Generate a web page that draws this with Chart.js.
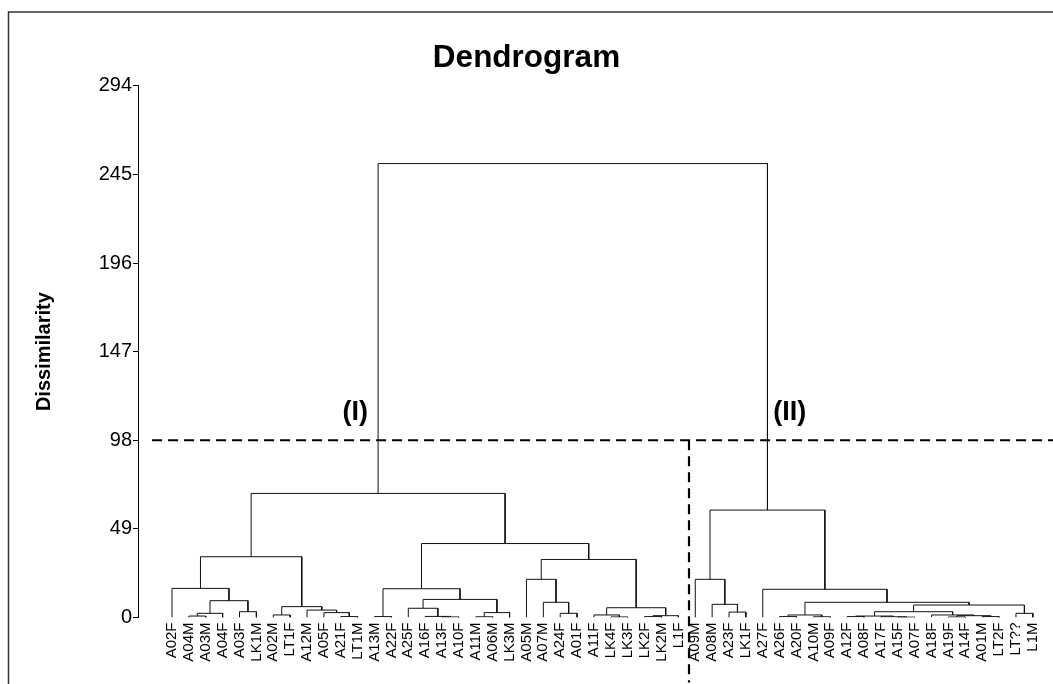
<!DOCTYPE html>
<html><head><meta charset="utf-8">
<script src="https://cdn.jsdelivr.net/npm/chart.js@4.4.1/dist/chart.umd.min.js"></script>
<style>html,body{margin:0;padding:0;background:#fff}canvas{display:block}</style>
</head><body>
<canvas id="c" width="1053" height="684"></canvas>
<script>
// Leaves in display order
const leafLabels = ['A02F','A04M','A03M','A04F','A03F','LK1M','A02M','LT1F','A12M','A05F','A21F','LT1M',
  'A13M','A22F','A25F','A16F','A13F','A10F','A11M','A06M','LK3M','A05M','A07M','A24F','A01F',
  'A11F','LK4F','LK3F','LK2F','LK2M','L1F','A09M','A08M','A23F','LK1F','A27F','A26F','A20F',
  'A10M','A09F','A12F','A08F','A17F','A15F','A07F','A18F','A19F','A14F','A01M','LT2F','LT??','L1M'];
// Linkage: ids < 52 are leaves, id 52+k is merge k
const mergeLeft  = [1,52,4,53,0,6,10,9,8,57,56,12,16,15,14,18,67,66,63,23,22,21,26,25,28,76,75,73,70,62,
  33,32,31,36,38,85,40,43,42,88,46,48,92,45,91,50,96,87,35,84,81];
const mergeRight = [2,3,5,54,55,7,11,58,59,60,61,13,17,64,65,19,20,68,69,24,71,72,27,74,29,30,77,78,79,80,
  34,82,83,37,39,86,41,44,89,90,47,49,93,94,95,51,97,98,99,100,101];
const mergeHeight = [0.8,2.3,3.2,9.3,16.1,1.4,0.5,2.7,4.1,6.0,33.6,0.5,0.3,0.6,5.1,0.4,2.7,10.0,15.9,
  2.3,8.4,21.1,0.3,1.4,0.5,1.0,5.4,32.1,40.9,68.6,
  3.0,7.3,21.1,0.5,0.4,1.4,0.5,0.2,0.4,0.8,0.3,0.5,1.0,1.4,3.2,2.3,6.9,8.4,15.6,59.4,251];
const yTicks = [0,49,98,147,196,245,294];
const cutHeight = 98;
const cutPosition = 30.63;
const groupLabels = ['(I)','(II)'];
const groupLabelX = [10.85, 36.6];
const groupLabelY = [113.5, 113.5];

const FONT = '"Liberation Sans", Arial, Helvetica, sans-serif';
const nodeX = leafLabels.map((_, i) => i);
const nodeH = leafLabels.map(() => 0);
const datasets = [];
mergeLeft.forEach((l, k) => {
  const r = mergeRight[k], h = mergeHeight[k];
  datasets.push({
    data: [{x: nodeX[l], y: nodeH[l]}, {x: nodeX[l], y: h}, {x: nodeX[r], y: h}, {x: nodeX[r], y: nodeH[r]}],
    borderColor: '#111', borderWidth: 1, showLine: true, pointRadius: 0, fill: false, tension: 0
  });
  nodeX.push((nodeX[l] + nodeX[r]) / 2);
  nodeH.push(h);
});
datasets.push({
  data: [{x: -1.18, y: cutHeight}, {x: 54, y: cutHeight}],
  borderColor: '#000', borderWidth: 2.2, borderDash: [10, 6], showLine: true, pointRadius: 0, clip: false
});
datasets.push({
  data: [{x: cutPosition, y: cutHeight}, {x: cutPosition, y: -36}],
  borderColor: '#000', borderWidth: 2.2, borderDash: [10, 6], showLine: true, pointRadius: 0, clip: false
});

const decor = {
  id: 'decor',
  beforeDraw(chart) {
    const ctx = chart.ctx;
    ctx.save();
    ctx.fillStyle = '#fff';
    ctx.fillRect(0, 0, chart.width, chart.height);
    ctx.strokeStyle = '#333';
    ctx.lineWidth = 1.5;
    ctx.beginPath();
    ctx.moveTo(8.5, chart.height + 5);
    ctx.lineTo(8.5, 12);
    ctx.lineTo(chart.width + 5, 12);
    ctx.stroke();
    ctx.restore();
  },
  afterDraw(chart) {
    const {ctx, scales: {x, y}} = chart;
    ctx.save();
    ctx.font = 'bold 27px ' + FONT;
    ctx.fillStyle = '#000';
    ctx.textAlign = 'center';
    ctx.textBaseline = 'middle';
    groupLabels.forEach((t, i) => ctx.fillText(t, x.getPixelForValue(groupLabelX[i]), y.getPixelForValue(groupLabelY[i])));
    ctx.restore();
  }
};

new Chart(document.getElementById('c'), {
  type: 'scatter',
  data: {datasets},
  plugins: [decor],
  options: {
    responsive: false,
    animation: false,
    devicePixelRatio: 1,
    layout: {padding: {top: 12, left: 8, right: 8, bottom: 0}},
    plugins: {
      legend: {display: false},
      tooltip: {enabled: false},
      title: {display: true, text: 'Dendrogram', color: '#000',
        font: {family: FONT, size: 31.5, weight: 'bold'}, padding: {top: 27, bottom: 9}}
    },
    elements: {point: {radius: 0}, line: {tension: 0}},
    scales: {
      x: {
        type: 'linear', min: -2.014, max: 51.72,
        grid: {display: false, drawTicks: false},
        border: {display: false},
        ticks: {autoSkip: false, minRotation: 90, maxRotation: 90, padding: 5, color: '#000',
          font: {family: FONT, size: 15},
          callback: (v) => leafLabels[v] !== undefined ? leafLabels[v] : ''},
        afterBuildTicks: (s) => { s.ticks = leafLabels.map((_, i) => ({value: i})); },
        afterFit: (s) => { s.height = 66.5; s.paddingLeft = 0; s.paddingRight = 0; }
      },
      y: {
        type: 'linear', min: 0, max: 294,
        afterBuildTicks: (s) => { s.ticks = yTicks.map(v => ({value: v})); },
        ticks: {color: '#000', padding: 1, font: {family: FONT, size: 20}},
        grid: {drawOnChartArea: false, drawTicks: true, tickLength: 5, color: '#000', lineWidth: 1},
        border: {display: true, color: '#000', width: 1},
        title: {display: true, text: 'Dissimilarity', color: '#000',
          font: {family: FONT, size: 20, weight: 'bold'}, padding: {top: 24, bottom: 0}},
        afterFit: (s) => { s.width = 130; }
      }
    }
  }
});
</script>
</body></html>
